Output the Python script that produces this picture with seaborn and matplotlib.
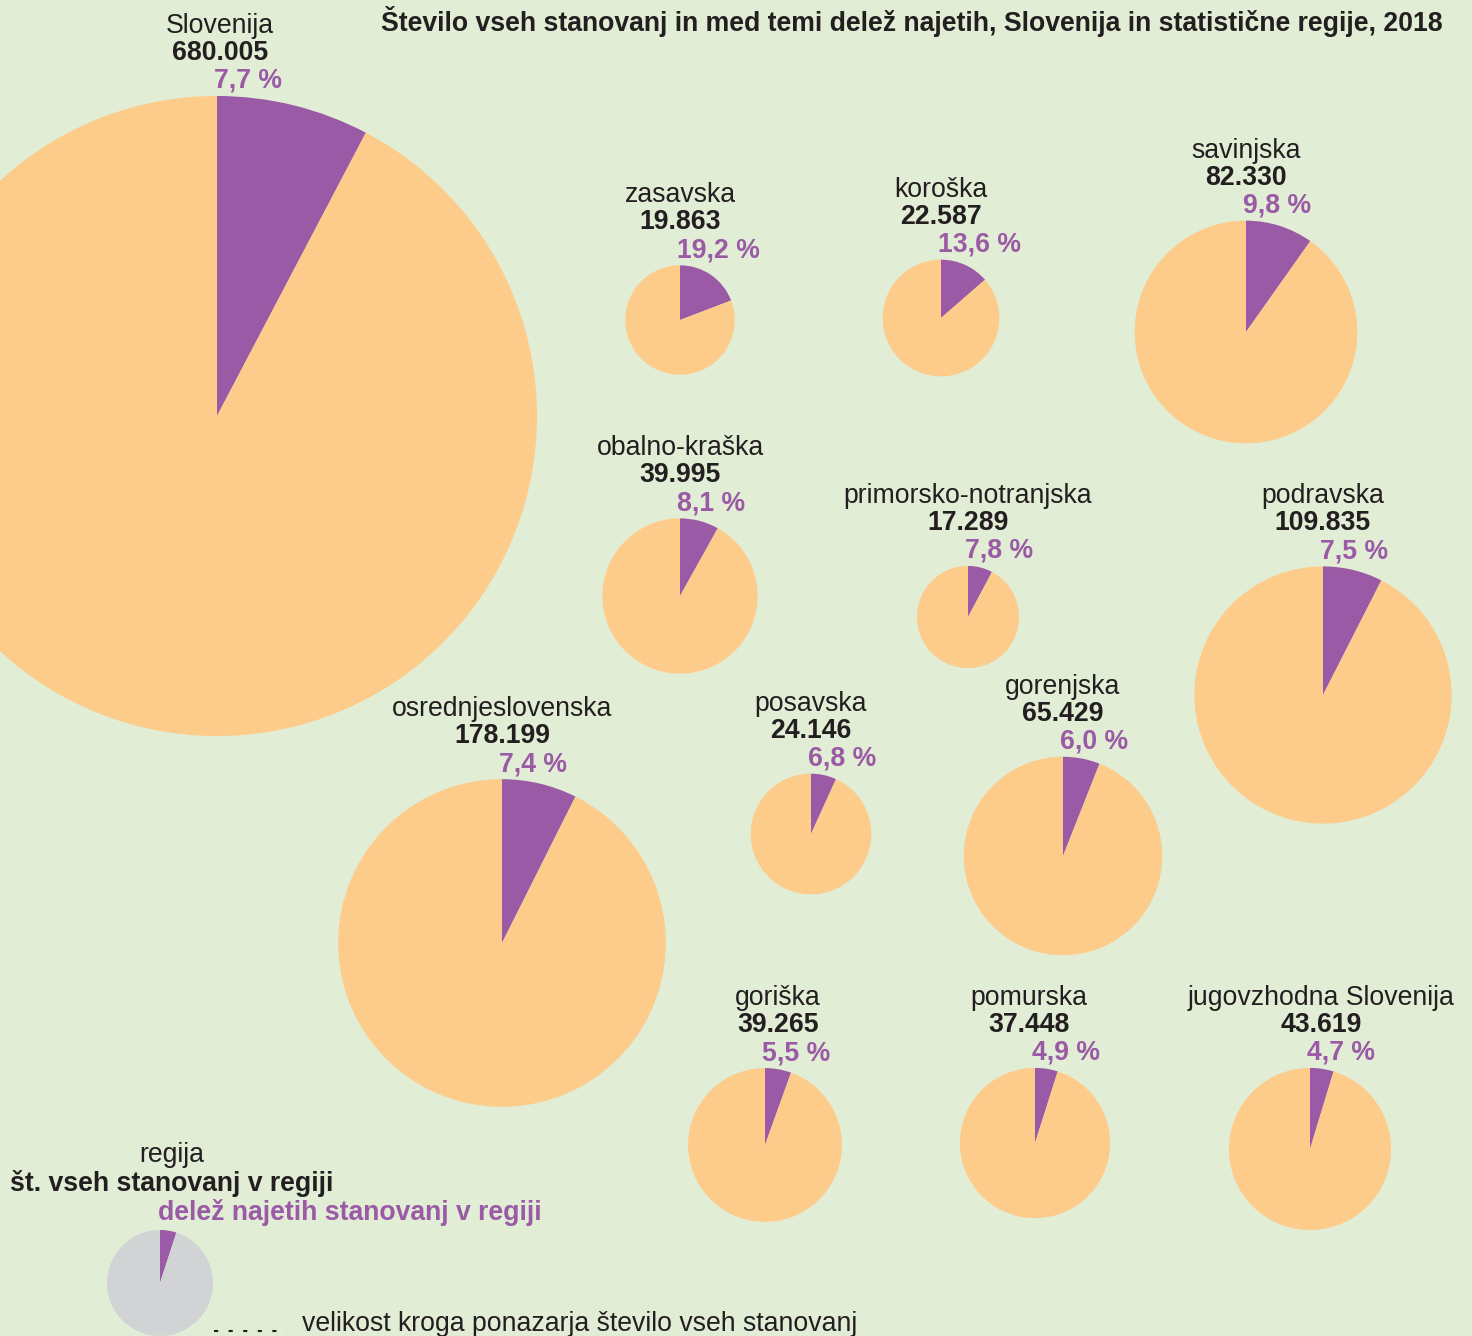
import numpy as np
import matplotlib
matplotlib.use("Agg")
import matplotlib.pyplot as plt
import seaborn as sns

# Podatki
regije = ['Slovenija', 'zasavska', 'koroška', 'savinjska', 'obalno-kraška',
          'primorsko-notranjska', 'podravska', 'osrednjeslovenska', 'posavska',
          'gorenjska', 'goriška', 'pomurska', 'jugovzhodna Slovenija']
stanovanja = [680005, 19863, 22587, 82330, 39995, 17289, 109835, 178199,
              24146, 65429, 39265, 37448, 43619]
delez_najetih = [7.7, 19.2, 13.6, 9.8, 8.1, 7.8, 7.5, 7.4, 6.8, 6.0, 5.5, 4.9, 4.7]

# Postavitev (sredisca krogov v pikslih, od zgoraj)
centri = [(217, 416), (680, 320), (941, 318), (1246, 332), (680, 596),
          (968, 617), (1323, 695), (502, 943), (811, 834), (1063, 856),
          (765, 1145), (1035, 1143), (1310, 1149)]
# zamik napisov (ime, stevilo) glede na sredisce kroga
zamik_napisa = [3, 0, 0, 0, 0, 0, 0, 0, 0, 0, 13, -6, 11]
R_MAX = 320  # polmer kroga za Slovenijo

BG = '#E2EDD5'
ORANGE = '#FDCB8A'
PURPLE = '#9A5AA6'
GREY = '#D2D3D5'
TXT = '#231F20'

W, H = 1472, 1336

sns.set_style('white', {'axes.facecolor': BG, 'figure.facecolor': BG})
plt.rcParams['font.family'] = ['Liberation Sans', 'DejaVu Sans']

fig = plt.figure(figsize=(W / 100, H / 100), dpi=100)
ax = fig.add_axes([0, 0, 1, 1])
ax.set_facecolor(BG)

FS = 19.2


def pita(cx, cy, r, delez, barva):
    ax.pie([delez, 100 - delez], colors=[PURPLE, barva], startangle=-90,
           counterclock=True, center=(cx, cy), radius=r, frame=True,
           wedgeprops=dict(linewidth=0))


for ime, n, d, (cx, cy), dx in zip(regije, stanovanja, delez_najetih, centri, zamik_napisa):
    r = R_MAX * np.sqrt(n / stanovanja[0])
    pita(cx, cy, r, d, ORANGE)
    top = cy - r
    ax.text(cx + dx, top - 63, ime, ha='center', va='baseline', fontsize=FS, color=TXT)
    ax.text(cx + dx, top - 36, f'{n:,}'.replace(',', '.'), ha='center', va='baseline',
            fontsize=FS, fontweight='bold', color=TXT)
    ax.text(cx - 3, top - 8, f'{d:.1f} %'.replace('.', ','), ha='left', va='baseline',
            fontsize=FS, fontweight='bold', color=PURPLE)

# Naslov
ax.text(1443, 31, 'Število vseh stanovanj in med temi delež najetih, Slovenija in statistične regije, 2018',
        ha='right', va='baseline', fontsize=19.15, fontweight='bold', color=TXT,
        family=['Liberation Sans Narrow', 'Liberation Sans'])

# Legenda
pita(160, 1283, 53, 5.0, GREY)
ax.text(172, 1162, 'regija', ha='center', va='baseline', fontsize=FS, color=TXT)
ax.text(172, 1191, 'št. vseh stanovanj v regiji', ha='center', va='baseline',
        fontsize=FS, fontweight='bold', color=TXT)
ax.text(158, 1220, 'delež najetih stanovanj v regiji', ha='left', va='baseline',
        fontsize=FS, fontweight='bold', color=PURPLE)
ax.plot([214, 287], [1331, 1331], color=TXT, lw=1.5, ls=(0, (2, 5)))
ax.text(302, 1331, 'velikost kroga ponazarja število vseh stanovanj', ha='left',
        va='baseline', fontsize=FS, color=TXT)

ax.set_xlim(0, W)
ax.set_ylim(H, 0)
ax.set_aspect('auto')
ax.axis('off')

fig.savefig('out.png', dpi=100, facecolor=BG)
